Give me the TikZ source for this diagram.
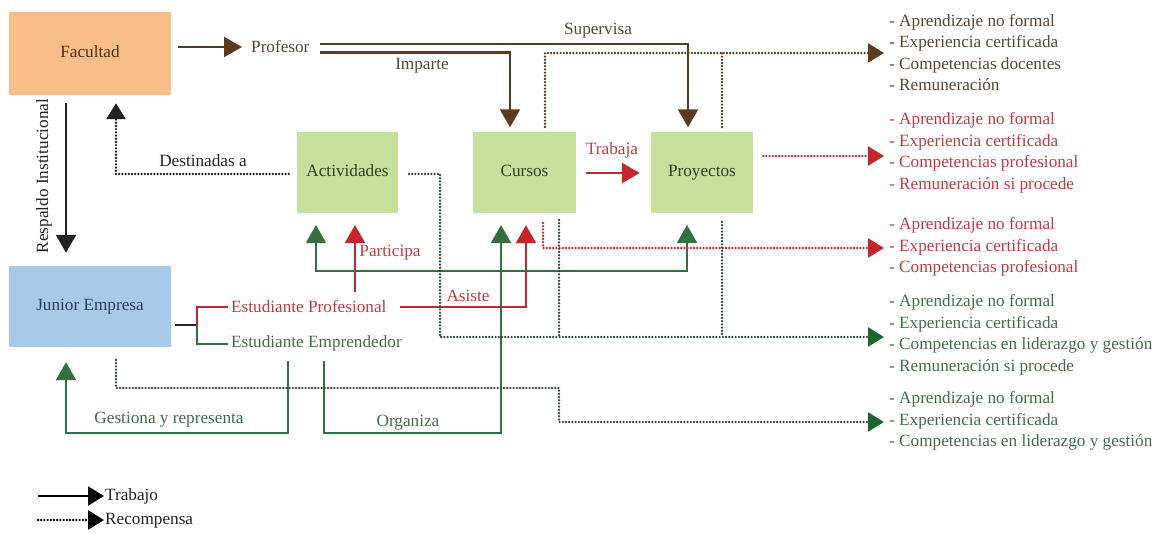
\documentclass[tikz,border=0pt]{standalone}
\usepackage{fontspec}
\setmainfont{Liberation Serif}
\usetikzlibrary{arrows.meta,calc}
\definecolor{facfill}{HTML}{F9BE87}
\definecolor{jrfill}{HTML}{A9C9E8}
\definecolor{grfill}{HTML}{C6DF9D}
\definecolor{brn}{HTML}{5B3A1E}
\definecolor{brntext}{HTML}{5C4434}
\definecolor{factext}{HTML}{4A3020}
\definecolor{jrtext}{HTML}{2A4058}
\definecolor{grtext}{HTML}{2C4424}
\definecolor{rd}{HTML}{C4262E}
\definecolor{rdtext}{HTML}{C03A40}
\definecolor{gn}{HTML}{33703F}
\definecolor{gnhead}{HTML}{1F6330}
\definecolor{gntext}{HTML}{3D6F47}
\definecolor{dotgn}{HTML}{34473A}
\definecolor{dk}{HTML}{222222}
\begin{document}
\begin{tikzpicture}[x=1pt,y=-1pt,
  font=\fontsize{17.2}{21.5}\selectfont,
  box/.style={draw=none, inner sep=0pt, text height=12pt, text depth=4pt},
  lbl/.style={inner sep=0pt},
  lst/.style={align=left, anchor=west, inner sep=0pt},
  work/.style={line width=2.4pt, -{Triangle[length=18pt,width=20pt]}},
  thinwork/.style={line width=1.6pt, -{Triangle[length=18pt,width=20pt]}},
  dots/.style={line width=2.6pt, line cap=round, dash pattern=on 0pt off 3.2pt},
  rew/.style={dots, -{Triangle[length=16pt,width=19pt]}},
  rewg/.style={dots, -{Triangle[length=16pt,width=19pt,color=gnhead]}},
]
\useasboundingbox (0,0) rectangle (1165,534);

% boxes
\node[box, fill=facfill, minimum width=162pt, minimum height=83pt, text=factext] (fac) at (90,53.5) {Facultad};
\node[box, fill=jrfill, minimum width=162pt, minimum height=81pt, text=jrtext] (jr) at (90,306.5) {Junior Empresa};
\node[box, fill=grfill, minimum width=101pt, minimum height=81pt, text=grtext] (act) at (347.5,173) {Actividades};
\node[box, fill=grfill, minimum width=103pt, minimum height=81pt, text=grtext] (cur) at (524.5,173) {Cursos};
\node[box, fill=grfill, minimum width=102pt, minimum height=81pt, text=grtext] (pro) at (702,173) {Proyectos};

% text nodes
\node[lbl, anchor=west, text=brntext] (prof) at (251,47) {Profesor};
\node[lbl, text=brntext] (lsup) at (598,31) {Supervisa};
\node[lbl, text=brntext] (limp) at (422,66) {Imparte};
\node[lbl, text=rdtext] (ltra) at (612,150) {Trabaja};
\node[lbl, text=dk] (ldes) at (203,161) {Destinadas a};
\node[lbl, text=dk, rotate=90] (lres) at (44,176) {Respaldo Institucional};
\node[lbl, anchor=west, text=rdtext] (ep) at (231,307) {Estudiante Profesional};
\node[lbl, anchor=west, text=gntext] (ee) at (231,343) {Estudiante Emprendedor};
\node[lbl, text=rdtext] (lpar) at (390,253) {Participa};
\node[lbl, text=rdtext] (lasi) at (468,296) {Asiste};
\node[lbl, text=gntext] (lges) at (169,420) {Gestiona y representa};
\node[lbl, text=gntext] (lorg) at (408,423) {Organiza};

% reward lists
\node[lst, text=brntext] (l1) at (889,52.5) {- Aprendizaje no formal\\- Experiencia certificada\\- Competencias docentes\\- Remuneración};
\node[lst, text=rdtext] (l2) at (889,153) {- Aprendizaje no formal\\- Experiencia certificada\\- Competencias profesional\\- Remuneración si procede};
\node[lst, text=rdtext] (l3) at (889,247) {- Aprendizaje no formal\\- Experiencia certificada\\- Competencias profesional};
\node[lst, text=gntext] (l4) at (889,335) {- Aprendizaje no formal\\- Experiencia certificada\\- Competencias en liderazgo y gestión\\- Remuneración si procede};
\node[lst, text=gntext] (l5) at (889,421) {- Aprendizaje no formal\\- Experiencia certificada\\- Competencias en liderazgo y gestión};

% coordinates
\coordinate (sv0) at (320,44);
\coordinate (sv1) at (688,44);
\coordinate (im0) at (320,52.5);
\coordinate (im1) at (510,52.5);
\coordinate (bd0) at (545,127);
\coordinate (bd1) at (722,127);
\coordinate (bdE) at (884,53);
\coordinate (rdE) at (884,156);
\coordinate (rs0) at (543,223);
\coordinate (rsE) at (884,248);
\coordinate (ad0) at (409,174);
\coordinate (ad1) at (440,337);
\coordinate (adE) at (884,337);
\coordinate (cd0) at (559,220);
\coordinate (pd0) at (722,222);
\coordinate (jd0) at (116,360);
\coordinate (jd1) at (559,388);
\coordinate (jdE) at (884,422);
\coordinate (br) at (197,325);
\coordinate (pa0) at (355,292);
\coordinate (pa1) at (355,225);
\coordinate (or0) at (324,361);
\coordinate (or1) at (501,433);
\coordinate (orT) at (501,225);
\coordinate (brj) at (501,271);
\coordinate (brA) at (316,225);
\coordinate (brP) at (687,225);
\coordinate (ge0) at (288,361);

% work connectors
\draw[work, brn] ($(fac.east |- prof.west)+(7,0)$) -- ($(prof.west)+(-9,0)$);
\draw[work, brn] (sv0) -- (sv1) -- ($(sv1 |- pro.north)+(0,-5)$);
\draw[work, brn] (im0) -- (im1) -- ($(im1 |- cur.north)+(0,-5)$);
\draw[work, rd] ($(cur.east)+(10,0)$) -- ($(pro.west)+(-11,0)$);
\draw[work, dk] ($(fac.south)+(-24,8)$) -- ($(jr.north)+(-24,-13)$);

% bracket
\draw[line width=2pt, dk] ($(jr.east)+(4,18.5)$) -- (br);
\draw[line width=2pt, rd] (br) |- ($(ep.west)+(-3,0)$);
\draw[line width=2pt, gn] (br) |- ($(ee.west)+(-3,1)$);

% student connectors
\draw[work, rd] ($(ep.east)+(13,0)$) -| ($(cur.south)+(1.5,11.5)$);
\draw[work, rd] (pa0) -- (pa1);
\draw[work, gn] (or0) |- (or1) -- (orT);
\draw[thinwork, gn] (brj) -| (brA);
\draw[thinwork, gn] (brj) -| (brP);
\draw[work, gn] (ge0) |- ($(jr.south)+(-24,86)$) -- ($(jr.south)+(-24,15)$);

% reward connectors
\draw[rew, brn] (bd0) |- (bdE);
\draw[dots, brn] (bd1) -- (bd1 |- bdE);
\draw[rew, rd] ($(pro.east)+(10,-17)$) -- (rdE);
\draw[rew, rd] (rs0) |- (rsE);
\draw[rewg, dotgn] (ad0) -| (ad1) -- (adE);
\draw[dots, dotgn] (cd0) -- (cd0 |- adE);
\draw[dots, dotgn] (pd0) -- (pd0 |- adE);
\draw[rewg, dotgn] (jd0) |- (jd1) |- (jdE);
\draw[rew, dk] ($(act.west)+(-8,1)$) -| ($(fac.south)+(26,8)$);

% legend
\node[lbl, anchor=west, text=dk] (lt1) at (105,496) {Trabajo};
\node[lbl, anchor=west, text=dk] (lt2) at (105,521) {Recompensa};
\coordinate (lg1) at (38,496);
\coordinate (lg2) at (38,520);
\draw[line width=2.2pt, black, -{Triangle[length=16pt,width=19pt]}] (lg1) -- ($(lt1.west)+(-1,0)$);
\draw[dots, black, -{Triangle[length=16pt,width=19pt]}] (lg2) -- ($(lt2.west |- lg2)+(-1,0)$);
\end{tikzpicture}
\end{document}
